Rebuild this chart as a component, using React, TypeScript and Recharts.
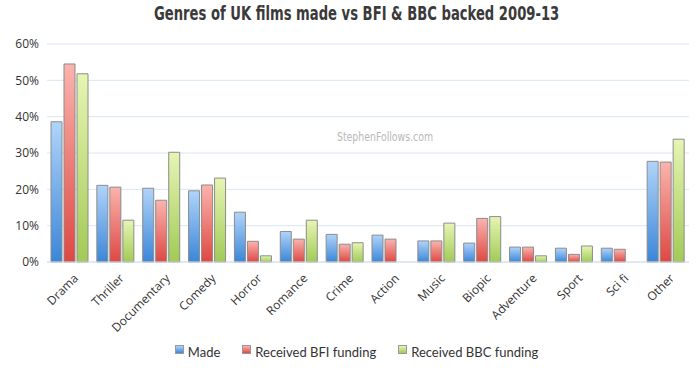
import React from 'react';
import { BarChart, Bar, XAxis, YAxis, CartesianGrid, Legend } from 'recharts';

const genres = [
  'Drama', 'Thriller', 'Documentary', 'Comedy', 'Horror', 'Romance', 'Crime',
  'Action', 'Music', 'Biopic', 'Adventure', 'Sport', 'Sci fi', 'Other',
];
const made = [38.6, 21.1, 20.3, 19.6, 13.7, 8.4, 7.6, 7.4, 5.8, 5.2, 4.1, 3.8, 3.8, 27.7];
const bfi = [54.5, 20.6, 17.0, 21.2, 5.7, 6.3, 4.9, 6.3, 5.8, 12.0, 4.1, 2.1, 3.5, 27.5];
const bbc = [51.8, 11.5, 30.2, 23.1, 1.7, 11.5, 5.3, 0, 10.7, 12.5, 1.7, 4.4, 0, 33.8];
const yTicks = [0, 10, 20, 30, 40, 50, 60];

const series = [
  { key: 'made', name: 'Made', top: '#b0d4fa', bottom: '#3b86d8' },
  { key: 'bfi', name: 'Received BFI funding', top: '#fbb4ae', bottom: '#de4843' },
  { key: 'bbc', name: 'Received BBC funding', top: '#e6f5b4', bottom: '#a2ca56' },
];

const data = genres.map((g, i) => ({ genre: g, made: made[i], bfi: bfi[i], bbc: bbc[i] }));

const font = '"Open Sans", "Noto Sans", sans-serif';
const condensed = '"DejaVu Sans Condensed", "DejaVu Sans", sans-serif';

const GenreTick = (props: any) => {
  const { x, y, payload } = props;
  const tx = x + 9;
  const ty = y + 9;
  return (
    <text
      x={tx}
      y={ty}
      transform={`rotate(-45, ${tx}, ${ty})`}
      textAnchor="end"
      fill="#333"
      fontSize={12}
      fontFamily={font}
    >
      {payload.value}
    </text>
  );
};

const LegendBox = () => (
  <div
    style={{
      display: 'flex',
      justifyContent: 'center',
      alignItems: 'center',
      fontFamily: '"Lato", sans-serif',
      fontSize: 13,
      color: '#333',
      paddingLeft: 46,
    }}
  >
    {series.map((s) => (
      <span key={s.key} style={{ display: 'flex', alignItems: 'center', marginRight: 22 }}>
        <span
          style={{
            width: 7,
            height: 7,
            marginRight: 4,
            marginTop: -6,
            border: '1px solid #999',
            background: `linear-gradient(${s.top}, ${s.bottom})`,
          }}
        />
        {s.name}
      </span>
    ))}
  </div>
);

export default function App() {
  return (
    <div style={{ position: 'absolute', left: 0, top: 0, width: 700, height: 377, background: '#fff' }}>
      <div
        style={{
          position: 'absolute',
          top: 2,
          left: 5,
          width: 700,
          textAlign: 'center',
          fontFamily: condensed,
          fontWeight: 'bold',
          fontSize: 19,
          color: '#3a3a3a',
          transform: 'scaleX(0.77)',
          transformOrigin: '357px 0',
        }}
      >
        Genres of UK films made vs BFI &amp; BBC backed 2009-13
      </div>
      <div
        style={{
          position: 'absolute',
          top: 129,
          left: 337,
          fontFamily: condensed,
          fontSize: 13,
          color: '#b8b8b8',
          transform: 'scaleX(0.8)',
          transformOrigin: '0 0',
        }}
      >
        StephenFollows.com
      </div>
      <BarChart
        width={700}
        height={377}
        data={data}
        margin={{ top: 44, right: 11, bottom: 13, left: 0 }}
        barSize={11}
        barGap={2}
      >
        <defs>
          {series.map((s) => (
            <linearGradient key={s.key} id={`grad-${s.key}`} x1="0" y1="0" x2="0" y2="1">
              <stop offset="0%" stopColor={s.top} />
              <stop offset="100%" stopColor={s.bottom} />
            </linearGradient>
          ))}
        </defs>
        <CartesianGrid vertical={false} stroke="#dbe6f2" />
        <XAxis
          dataKey="genre"
          interval={0}
          tick={<GenreTick />}
          tickLine={false}
          axisLine={{ stroke: '#d3dfeb' }}
          height={82}
        />
        <YAxis
          width={47}
          domain={[0, 60]}
          ticks={yTicks}
          tickFormatter={(v) => `${v}%`}
          axisLine={false}
          tickLine={false}
          tick={{ fill: '#333', fontSize: 12, fontFamily: font }}
        />
        <Legend verticalAlign="bottom" height={20} content={<LegendBox />} />
        {series.map((s) => (
          <Bar
            key={s.key}
            dataKey={s.key}
            name={s.name}
            fill={`url(#grad-${s.key})`}
            stroke="#8c8c8c"
            strokeWidth={1}
            isAnimationActive={false}
          />
        ))}
      </BarChart>
    </div>
  );
}
